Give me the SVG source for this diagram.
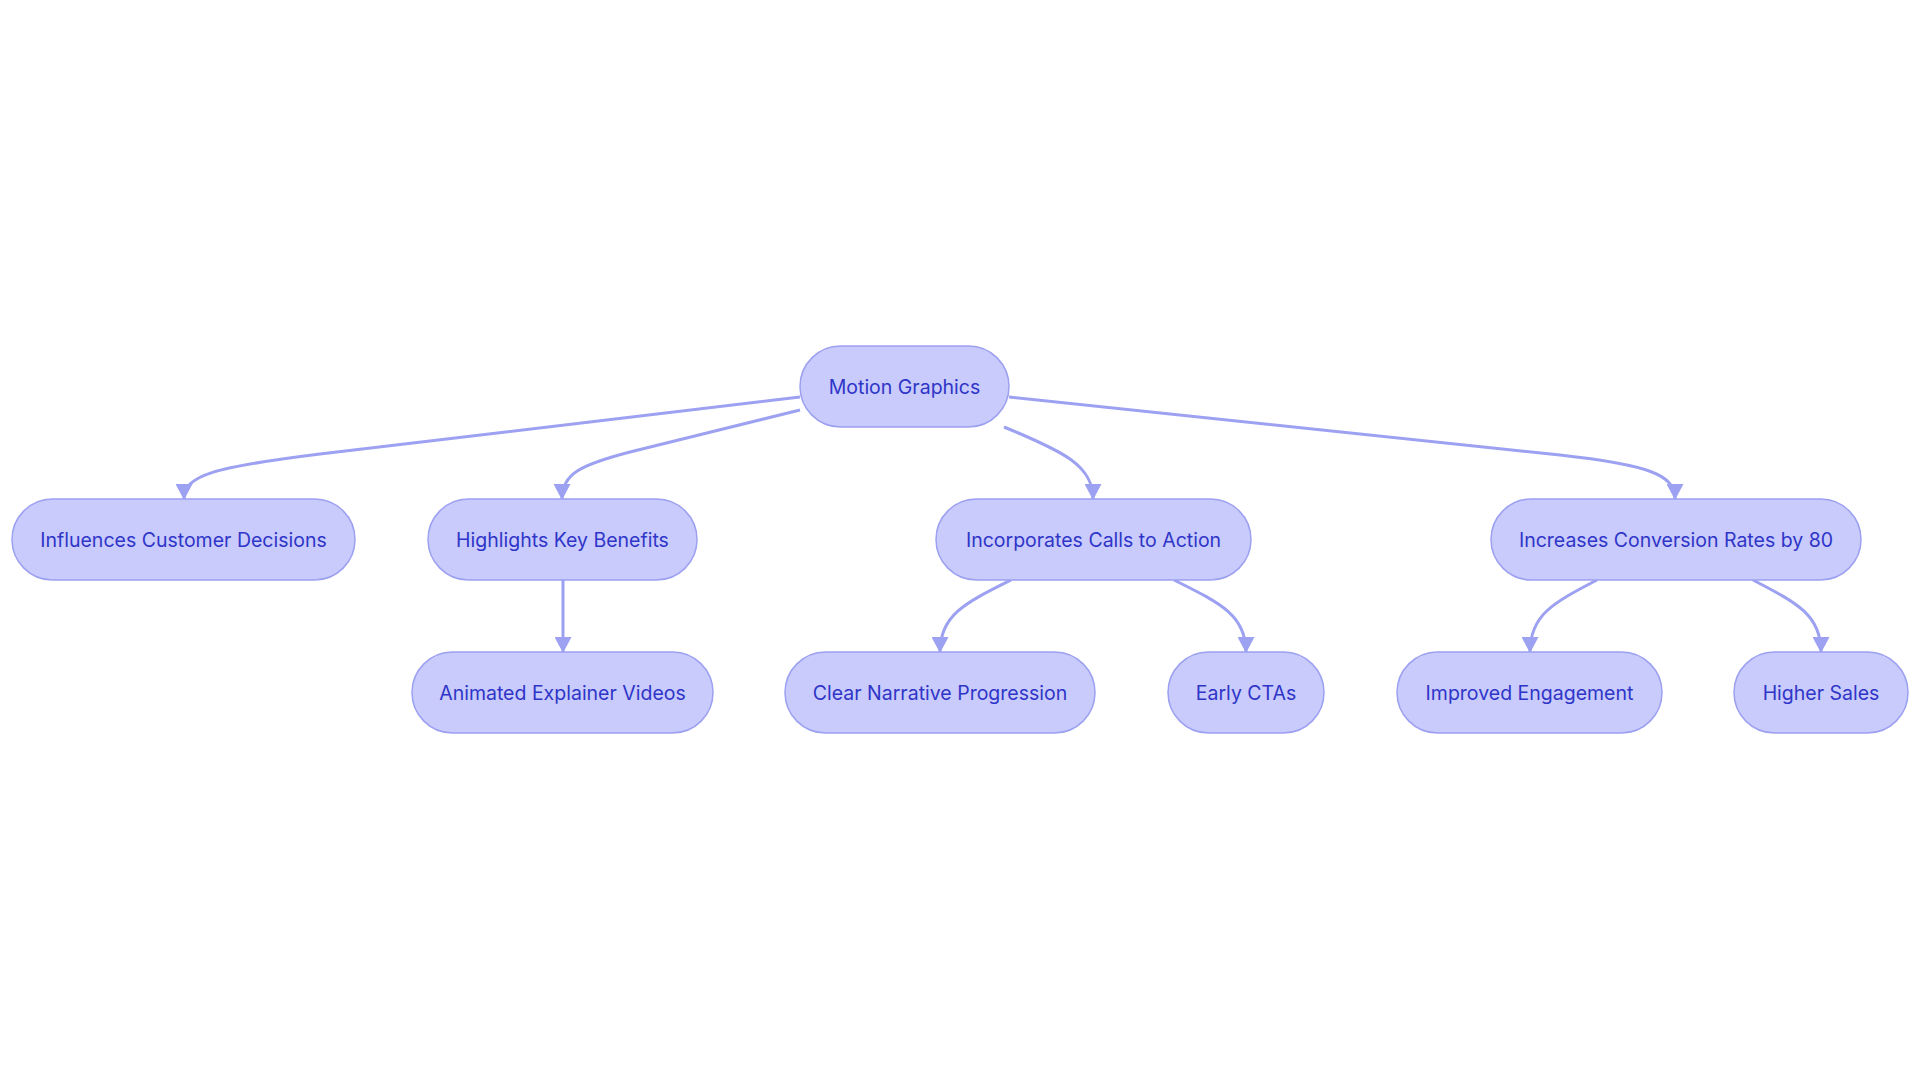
<svg xmlns="http://www.w3.org/2000/svg" width="1920" height="1083" viewBox="0 0 1920 1083">
<style>
.node rect{fill:#C8CBFB;stroke:#9CA0F0;stroke-width:1.5}
.node text{font-family:Inter,"Noto Sans",sans-serif;font-size:19.5px;fill:#2F35C8;text-anchor:middle;dominant-baseline:central}
.edge{fill:none;stroke:#9DA1F1;stroke-width:3;marker-end:url(#arr)}
</style>
<defs>
<marker id="arr" markerUnits="userSpaceOnUse" viewBox="0 0 16 17" refX="15" refY="8.5" markerWidth="16" markerHeight="17" orient="auto">
<path d="M0,0 L16,8.5 L0,17 z" fill="#9DA1F1"/>
</marker>
</defs>
<rect width="1920" height="1083" fill="#ffffff"/>
<g id="connectors">
<path class="edge" d="M800,397 L320,454 C215,467 184,475 184,499"/>
<path class="edge" d="M800,410 L630,452 C580,465 562,474 562,499"/>
<path class="edge" d="M1004,427 C1065,452 1093,466 1093,499"/>
<path class="edge" d="M1009,397 L1560,455 C1650,465 1675,475 1675,499"/>
<path class="edge" d="M563,580 L563,652"/>
<path class="edge" d="M1011,580 C965,603 940,615 940,652"/>
<path class="edge" d="M1174,580 C1220,603 1246,615 1246,652"/>
<path class="edge" d="M1597,580 C1553,603 1530,615 1530,652"/>
<path class="edge" d="M1753,580 C1797,603 1821,615 1821,652"/>
</g>
<g id="n-motion" class="node"><rect x="800" y="346" width="209" height="81" rx="40.5"/><text x="904.5" y="386.5">Motion Graphics</text></g>
<g id="n-influences" class="node"><rect x="12" y="499" width="343" height="81" rx="40.5"/><text x="183.5" y="539.5">Influences Customer Decisions</text></g>
<g id="n-highlights" class="node"><rect x="428" y="499" width="269" height="81" rx="40.5"/><text x="562.5" y="539.5">Highlights Key Benefits</text></g>
<g id="n-incorporates" class="node"><rect x="936" y="499" width="315" height="81" rx="40.5"/><text x="1093.5" y="539.5">Incorporates Calls to Action</text></g>
<g id="n-increases" class="node"><rect x="1491" y="499" width="370" height="81" rx="40.5"/><text x="1676" y="539.5">Increases Conversion Rates by 80</text></g>
<g id="n-animated" class="node"><rect x="412" y="652" width="301" height="81" rx="40.5"/><text x="562.5" y="692.5">Animated Explainer Videos</text></g>
<g id="n-clear" class="node"><rect x="785" y="652" width="310" height="81" rx="40.5"/><text x="940" y="692.5">Clear Narrative Progression</text></g>
<g id="n-early" class="node"><rect x="1168" y="652" width="156" height="81" rx="40.5"/><text x="1246" y="692.5">Early CTAs</text></g>
<g id="n-improved" class="node"><rect x="1397" y="652" width="265" height="81" rx="40.5"/><text x="1529.5" y="692.5">Improved Engagement</text></g>
<g id="n-higher" class="node"><rect x="1734" y="652" width="174" height="81" rx="40.5"/><text x="1821" y="692.5">Higher Sales</text></g>
</svg>
